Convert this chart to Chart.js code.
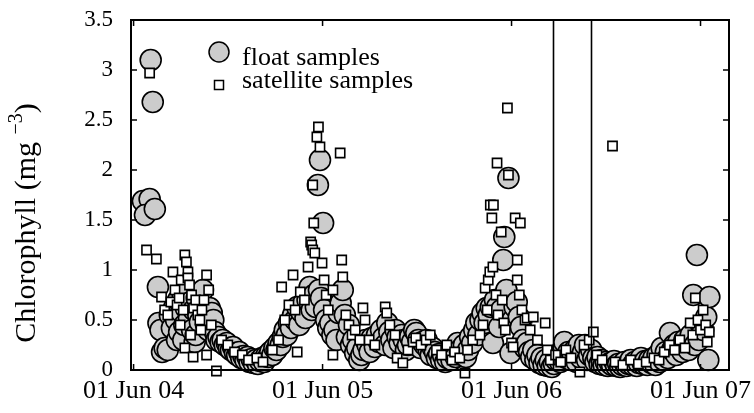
<!DOCTYPE html>
<html>
<head>
<meta charset="utf-8">
<script src="https://cdn.jsdelivr.net/npm/chart.js@4.4.1/dist/chart.umd.min.js"></script>
<style>
  html, body { margin: 0; padding: 0; background: #fff; }
  #wrap { width: 754px; height: 413px; }
</style>
</head>
<body>
<div id="wrap"><canvas id="chl"></canvas></div>
<script>
// x = days since 01 Jun 2004, y = chlorophyll
var tickDays = [0, 365, 730, 1095];
var tickLabels = ['01 Jun 04', '01 Jun 05', '01 Jun 06', '01 Jun 07'];
var yTicks = [0, 0.5, 1, 1.5, 2, 2.5, 3, 3.5];
var yTickLabels = ['0', '0.5', '1', '1.5', '2', '2.5', '3', '3.5'];
var gapDays = [810, 884];   // the two vertical lines

var floatSamples = [
  [18,1.69],[31,1.71],[22,1.55],[41,1.61],[33,3.1],[37,2.68],[47,0.83],[48,0.47],[52,0.4],
  [55,0.18],[60,0.22],[66,0.2],
  [70,0.55],[74,0.42],[78,0.62],[82,0.5],[84,0.3],[86,0.7],[88,0.38],[92,0.58],[95,0.75],
  [96,0.3],[98,0.45],[101,0.62],[104,0.8],[107,0.52],[110,0.68],[113,0.4],[116,0.6],[118,0.28],
  [120,0.35],[122,0.72],[125,0.55],[128,0.48],[131,0.65],[134,0.8],[137,0.58],[140,0.45],
  [144,0.4],[147,0.62],[151,0.57],[154,0.5],[157,0.38],
  [160,0.3],[164,0.33],[168,0.28],[172,0.3],[176,0.25],[180,0.27],[184,0.22],[188,0.2],
  [192,0.23],[196,0.17],[200,0.15],[204,0.18],[208,0.12],[212,0.14],[216,0.1],[220,0.13],
  [224,0.08],[228,0.11],[232,0.07],[236,0.1],[240,0.06],[244,0.09],[248,0.12],[252,0.08],[256,0.14],
  [260,0.13],[264,0.18],[268,0.15],[272,0.22],[276,0.2],[280,0.27],[284,0.25],[288,0.33],
  [292,0.4],[296,0.35],[300,0.47],[304,0.42],[308,0.55],[312,0.5],[316,0.63],[320,0.45],
  [324,0.58],[328,0.67],[332,0.52],[336,0.7],[340,0.83],[344,0.6],[348,0.75],[352,0.63],
  [356,1.85],[360,2.1],[366,1.47],[358,0.8],[362,0.72],
  [368,0.6],[372,0.5],[376,0.42],[380,0.47],[384,0.35],[388,0.4],[392,0.3],[396,0.57],
  [400,0.67],[404,0.8],[408,0.55],[412,0.33],[416,0.45],[420,0.25],[424,0.3],[428,0.17],
  [432,0.22],[436,0.1],[440,0.15],[444,0.2],[448,0.3],[452,0.25],[456,0.18],[460,0.32],
  [466,0.23],[470,0.35],[474,0.28],[478,0.4],[482,0.32],[486,0.25],[490,0.47],[494,0.38],
  [498,0.3],[502,0.22],[506,0.4],[510,0.33],[514,0.27],[518,0.35],[522,0.3],[526,0.2],
  [530,0.25],[534,0.33],[538,0.28],[542,0.4],[546,0.37],[550,0.3],[554,0.22],[558,0.28],
  [562,0.25],[566,0.3],[570,0.2],[574,0.15],[578,0.22],[582,0.18],[586,0.12],[590,0.16],
  [594,0.1],[598,0.14],[602,0.08],[606,0.12],[610,0.17],[614,0.1],[618,0.2],[622,0.13],
  [626,0.27],[630,0.2],[634,0.15],[638,0.25],[642,0.13],[646,0.2],
  [650,0.33],[654,0.27],[658,0.4],[662,0.47],[666,0.35],[670,0.5],[674,0.57],[678,0.47],
  [682,0.62],[686,0.55],[690,0.63],[694,0.27],[698,0.7],[702,0.63],[706,0.43],[710,0.6],
  [714,1.1],[716,1.33],[724,1.92],[720,0.8],[728,0.17],[732,0.5],[736,0.63],[740,0.68],
  [744,0.53],[748,0.43],[752,0.3],[756,0.22],
  [760,0.27],[764,0.18],[768,0.13],[772,0.2],[776,0.1],[780,0.15],[784,0.07],[788,0.12],
  [792,0.05],[796,0.1],[800,0.04],[804,0.08],[808,0.03],[812,0.06],[816,0.1],[820,0.15],
  [824,0.08],[828,0.2],[832,0.28],[836,0.12],[840,0.18],[844,0.1],[848,0.15],[852,0.2],
  [856,0.08],[860,0.25],[864,0.12],[868,0.18],[872,0.25],[876,0.1],[880,0.15],[884,0.2],
  [888,0.12],[892,0.08],[896,0.13],[900,0.06],[904,0.1],[908,0.05],[912,0.08],[916,0.04],
  [920,0.07],[924,0.05],[928,0.09],[932,0.04],[936,0.06],[940,0.03],[944,0.05],[948,0.08],
  [952,0.04],[956,0.06],[960,0.1],[964,0.05],[968,0.08],[972,0.04],[976,0.07],[980,0.12],
  [984,0.06],[988,0.09],[992,0.05],[996,0.1],[1000,0.07],[1004,0.12],[1008,0.05],[1012,0.15],
  [1016,0.08],[1020,0.22],[1024,0.1],[1028,0.18],[1032,0.12],[1036,0.37],[1040,0.2],
  [1044,0.25],[1048,0.15],[1052,0.28],[1056,0.22],[1060,0.18],[1064,0.3],[1068,0.25],
  [1072,0.2],[1076,0.35],
  [1081,0.75],[1088,1.15],[1084,0.25],[1092,0.3],[1096,0.45],[1100,0.4],[1106,0.53],
  [1112,0.73],[1110,0.1]
];

var satelliteSamples = [
  [31,2.97],[25,1.2],[44,1.11],[54,0.73],[60,0.6],[66,0.55],[72,0.68],[76,0.98],[80,0.8],
  [84,0.65],[88,0.72],[90,0.45],[92,0.9],[96,0.6],[99,1.15],[102,1.08],[105,0.98],[105,0.92],
  [108,0.85],[110,0.35],[112,0.75],[116,0.62],[120,0.7],[124,0.55],[128,0.5],[130,0.4],
  [132,0.6],[136,0.7],[141,0.95],[145,0.8],[150,0.45],[99,0.22],[115,0.13],[141,0.15],[160,-0.01],
  [170,0.3],[182,0.25],[195,0.18],[210,0.15],[222,0.1],[238,0.12],[250,0.08],
  [268,0.2],[280,0.3],[286,0.83],[292,0.5],[300,0.65],[308,0.95],[312,0.6],[316,0.18],
  [322,0.78],[330,0.7],[337,1.03],[342,1.28],[344,1.25],[346,1.2],[346,1.85],[348,1.47],
  [350,1.17],[354,2.33],[357,2.43],[360,2.23],[364,1.07],[368,0.9],[372,0.75],[376,0.6],
  [385,0.8],[385,0.15],[399,2.17],[402,1.1],[404,0.93],[410,0.55],[416,0.45],[422,0.35],
  [428,0.4],[437,0.3],[443,0.62],[447,0.5],[455,0.3],[466,0.25],[486,0.63],[489,0.57],
  [495,0.45],[505,0.35],[509,0.12],[520,0.07],[530,0.2],[540,0.28],[545,0.32],[555,0.25],
  [565,0.3],[573,0.35],[585,0.2],[595,0.15],[605,0.25],[615,0.1],[620,0.18],[630,0.12],
  [640,-0.03],[645,0.2],[655,0.3],
  [669,0.35],[675,0.45],[679,0.82],[683,0.6],[685,0.9],[688,0.98],[689,1.65],[692,1.52],
  [694,1.03],[695,1.65],[700,0.75],[702,2.07],[704,0.55],[710,1.38],[712,0.7],[715,0.47],
  [718,0.4],[722,2.62],[724,1.95],[730,0.27],[733,0.23],[737,1.52],[741,1.1],[741,0.9],
  [745,0.75],[747,1.47],[750,0.6],[756,0.5],[760,0.52],[766,0.4],[772,0.53],[780,0.3],
  [795,0.47],[799,0.2],[805,0.1],[815,0.15],[825,0.08],[835,0.2],[845,0.12],[862,-0.02],
  [870,0.25],[880,0.3],[888,0.38],[895,0.15],[905,0.1],[925,2.24],[930,0.08],[945,0.05],
  [960,0.1],[975,0.06],[990,0.08],[1005,0.12],[1015,0.1],[1025,0.18],[1035,0.25],[1045,0.2],
  [1055,0.3],[1065,0.22],[1075,0.47],[1080,0.35],[1085,0.72],[1090,0.5],[1095,0.4],
  [1100,0.6],[1105,0.45],[1108,0.28],[1112,0.38]
];

var serif = 'Liberation Serif';

// box, inward ticks, gap lines, legend and y title (MATLAB look)
var framePlugin = {
  id: 'frame',
  afterDatasetsDraw: function (chart) {
    var ctx = chart.ctx, a = chart.chartArea;
    var xs = chart.scales.x, ys = chart.scales.y;
    ctx.save();
    ctx.strokeStyle = '#000';

    ctx.lineWidth = 1.6;
    gapDays.forEach(function (d) {
      var px = Math.round(xs.getPixelForValue(d)) + 0.5;
      ctx.beginPath(); ctx.moveTo(px, a.top); ctx.lineTo(px, a.bottom); ctx.stroke();
    });

    ctx.lineWidth = 2;
    ctx.strokeRect(a.left, a.top, a.right - a.left, a.bottom - a.top);

    ctx.lineWidth = 1.5;
    tickDays.forEach(function (d) {
      var px = xs.getPixelForValue(d);
      ctx.beginPath();
      ctx.moveTo(px, a.bottom); ctx.lineTo(px, a.bottom - 6);
      ctx.moveTo(px, a.top); ctx.lineTo(px, a.top + 6);
      ctx.stroke();
    });
    yTicks.forEach(function (v) {
      var py = ys.getPixelForValue(v);
      ctx.beginPath();
      ctx.moveTo(a.left, py); ctx.lineTo(a.left + 6, py);
      ctx.moveTo(a.right, py); ctx.lineTo(a.right - 6, py);
      ctx.stroke();
    });

    // legend
    var lx = a.left + 88;
    ctx.beginPath();
    ctx.arc(lx, a.top + 32, 10, 0, Math.PI * 2);
    ctx.fillStyle = '#cccccc'; ctx.fill();
    ctx.lineWidth = 1.5; ctx.stroke();
    ctx.fillStyle = '#fff';
    ctx.fillRect(lx - 4.5, a.top + 60.5, 9, 9);
    ctx.strokeRect(lx - 4.5, a.top + 60.5, 9, 9);
    ctx.fillStyle = '#000';
    ctx.font = '26px "' + serif + '"';
    ctx.textBaseline = 'alphabetic';
    ctx.textAlign = 'left';
    ctx.fillText('float samples', a.left + 111, a.top + 45);
    ctx.fillText('satellite samples', a.left + 111, a.top + 68);

    // y title with superscript
    ctx.translate(35, 223);
    ctx.rotate(-Math.PI / 2);
    var big = '30px "' + serif + '"', small = '20px "' + serif + '"';
    var t1 = 'Chlorophyll (mg ', t2 = '\u22123', t3 = ')';
    ctx.font = big; var w1 = ctx.measureText(t1).width, w3 = ctx.measureText(t3).width;
    ctx.font = small; var w2 = ctx.measureText(t2).width;
    var sx = -(w1 + w2 + w3) / 2;
    ctx.font = big; ctx.fillText(t1, sx, 0);
    ctx.font = small; ctx.fillText(t2, sx + w1, -13);
    ctx.font = big; ctx.fillText(t3, sx + w1 + w2, 0);
    ctx.restore();
  }
};

new Chart(document.getElementById('chl'), {
  type: 'scatter',
  data: {
    datasets: [{
      label: 'satellite samples',
      data: satelliteSamples.map(function (p) { return { x: p[0], y: p[1] }; }),
      pointStyle: 'rect',
      pointRadius: 6.5,
      pointBackgroundColor: '#ffffff',
      pointBorderColor: '#000000',
      pointBorderWidth: 1.6,
      clip: false,
      order: 1
    }, {
      label: 'float samples',
      data: floatSamples.map(function (p) { return { x: p[0], y: p[1] }; }),
      pointStyle: 'circle',
      pointRadius: 10.5,
      pointBackgroundColor: '#cccccc',
      pointBorderColor: '#000000',
      pointBorderWidth: 1.6,
      clip: false,
      order: 2
    }]
  },
  options: {
    responsive: true,
    maintainAspectRatio: false,
    animation: false,
    events: [],
    layout: { padding: { top: 20, right: 25, left: 0, bottom: 0 } },
    plugins: {
      legend: { display: false },
      tooltip: { enabled: false }
    },
    scales: {
      x: {
        type: 'linear',
        min: -5,
        max: 1150,
        grid: { display: false, drawTicks: false },
        border: { display: false },
        afterBuildTicks: function (scale) {
          scale.ticks = tickDays.map(function (d) { return { value: d }; });
        },
        afterFit: function (scale) {
          scale.height = 43;
          scale.paddingLeft = 0; scale.paddingRight = 0;
        },
        ticks: {
          autoSkip: false,
          maxRotation: 0,
          padding: 6,
          color: '#000',
          font: { family: serif, size: 26 },
          callback: function (value) {
            var i = tickDays.indexOf(value);
            return i >= 0 ? tickLabels[i] : '';
          }
        }
      },
      y: {
        min: 0,
        max: 3.5,
        grid: { display: false, drawTicks: false },
        border: { display: false },
        afterBuildTicks: function (scale) {
          scale.ticks = yTicks.map(function (v) { return { value: v }; });
        },
        afterFit: function (scale) {
          scale.width = 131;
          scale.paddingTop = 0; scale.paddingBottom = 0;
        },
        ticks: {
          padding: 18,
          color: '#000',
          font: { family: serif, size: 23 },
          callback: function (value) {
            var i = yTicks.indexOf(value);
            return i >= 0 ? yTickLabels[i] : '';
          }
        }
      }
    }
  },
  plugins: [framePlugin]
});
</script>
</body>
</html>
